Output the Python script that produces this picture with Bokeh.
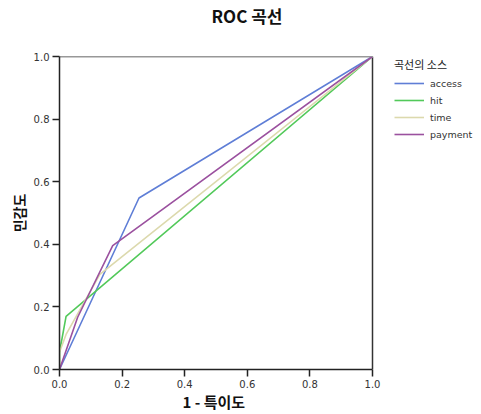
from bokeh.plotting import figure
from bokeh.models import Legend, LegendItem, PrintfTickFormatter, FixedTicker, Range1d, Title
from bokeh.embed import file_html
from bokeh.resources import INLINE

# ROC curve data (1 - specificity, sensitivity)
access_x = [0.0, 0.254, 1.0]
access_y = [0.0, 0.548, 1.0]
hit_x = [0.0, 0.0, 0.021, 1.0]
hit_y = [0.0, 0.055, 0.170, 1.0]
time_x = [0.0, 0.0, 0.021, 0.129, 1.0]
time_y = [0.0, 0.055, 0.112, 0.304, 1.0]
payment_x = [0.0, 0.058, 0.170, 1.0]
payment_y = [0.0, 0.167, 0.396, 1.0]

series_names = ["access", "hit", "time", "payment"]
colors = ["#5f7ed6", "#52c95a", "#dcd9ad", "#9b519f"]
ticks = [0.0, 0.2, 0.4, 0.6, 0.8, 1.0]

FONT = "Noto Sans CJK KR"

# plot frame is widened to the right so the legend can sit beside the 0..1 box
p = figure(width=481, height=414, output_backend="svg", toolbar_location=None, title=None,
           x_range=Range1d(0, 422 / 313), y_range=Range1d(0, 1),
           min_border_left=59, min_border_right=0, min_border_top=56, min_border_bottom=45)

# spacer (closest to the frame) then the real title
p.add_layout(Title(text=" ", text_font_size="10px", text_font=FONT, standoff=12), "above")
p.add_layout(Title(text="ROC 곡선", align="left", offset=152, standoff=0,
                   text_font=FONT, text_font_size="17px", text_font_style="bold",
                   text_color="#111111"), "above")

p.grid.visible = False
p.outline_line_color = None
p.background_fill_color = "white"
p.border_fill_color = "white"

for ax in (p.xaxis[0], p.yaxis[0]):
    ax.ticker = FixedTicker(ticks=ticks)
    ax.formatter = PrintfTickFormatter(format="%.1f")
    ax.bounds = (0, 1)
    ax.major_tick_in = 0
    ax.major_tick_out = 7
    ax.minor_tick_line_color = None
    ax.axis_line_width = 1.5
    ax.axis_line_color = "#222222"
    ax.major_tick_line_width = 1.5
    ax.major_tick_line_color = "#222222"
    ax.major_label_text_font = "DejaVu Sans"
    ax.major_label_text_font_size = "10px"
    ax.major_label_text_color = "#333333"
    ax.major_label_standoff = 3
    ax.axis_label_text_font = FONT
    ax.axis_label_text_font_size = "14px"
    ax.axis_label_text_font_style = "bold"
    ax.axis_label_text_color = "#111111"
    ax.axis_label_standoff = 2

p.yaxis.axis_label = "민감도"
# x-axis label as a title below the axis, centred under the 0..1 box
p.add_layout(Title(text="1 - 특이도", align="left", offset=123, standoff=0, vertical_align="top",
                   text_font=FONT, text_font_size="15px", text_font_style="bold",
                   text_color="#111111"), "below")

# frame box (top and right edges)
frame_x = [ticks[0], ticks[-1], ticks[-1]]
frame_y = [ticks[-1], ticks[-1], ticks[0]]
p.line(frame_x, frame_y, line_color="#333333", line_width=1.5)

xs = [access_x, hit_x, time_x, payment_x]
ys = [access_y, hit_y, time_y, payment_y]
items = []
for name, xv, yv, c in zip(series_names, xs, ys, colors):
    r = p.line(xv, yv, line_color=c, line_width=1.6)
    items.append(LegendItem(label=name, renderers=[r]))

legend = Legend(items=items, location=(335, 228), title="곡선의 소스",
                title_text_font=FONT, title_text_font_size="11px", title_text_font_style="normal",
                title_text_color="#222222", title_standoff=4,
                label_text_font="DejaVu Sans", label_text_font_size="9.5px", label_text_color="#333333",
                glyph_width=30, glyph_height=14, label_height=14, spacing=3,
                label_standoff=6, padding=0, margin=0,
                border_line_color=None, background_fill_alpha=0)
p.add_layout(legend, "center")

open("out.html", "w").write(file_html(p, INLINE))
